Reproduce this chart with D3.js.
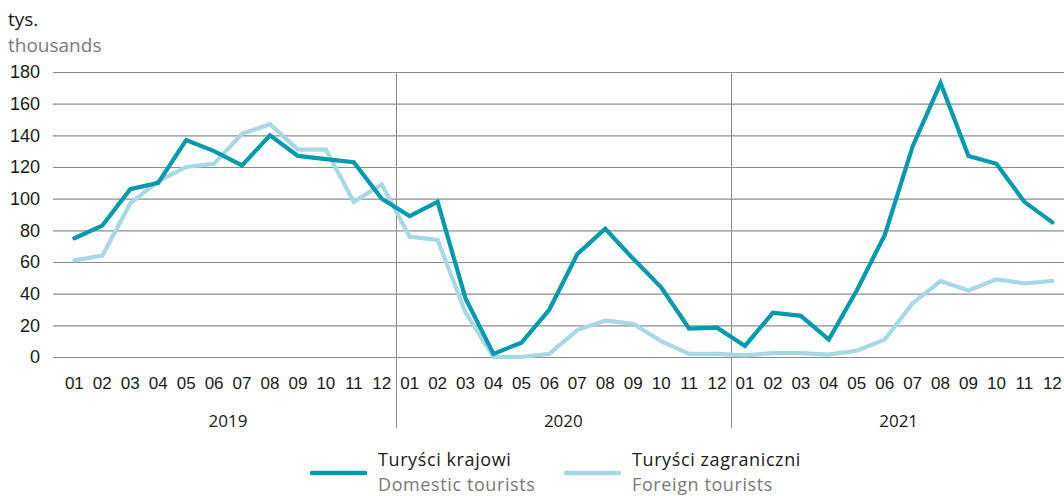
<!DOCTYPE html>
<html>
<head>
<meta charset="utf-8">
<script src="https://cdn.jsdelivr.net/npm/d3@7"></script>
<style>
  html, body { margin: 0; padding: 0; background: #fff; }
  svg { display: block; font-family: "Open Sans", "Noto Sans", sans-serif; }
</style>
</head>
<body>
<svg id="chart" width="1064" height="496"></svg>
<script>
// Monthly tourist arrivals, thousands
const years = ["2019", "2020", "2021"];
const months = ["01", "02", "03", "04", "05", "06", "07", "08", "09", "10", "11", "12"];
const domestic = [
  75, 83, 106, 110, 137, 130, 121, 140, 127, 125, 123, 100,
  89, 98, 37, 2, 9, 30, 65, 81, 62, 44, 18, 18.5,
  7, 28, 26, 11, 42, 77, 133, 173, 127, 122, 98, 85
];
const foreign = [
  61, 64, 97, 111, 120, 122, 141, 147, 131, 131, 98, 109,
  76, 74, 28, 0, 0, 2, 17, 23, 21, 10, 2, 2,
  1, 2.5, 2.5, 1.5, 4, 11, 34, 48, 42, 49, 46.5, 48
];
const yTicks = [0, 20, 40, 60, 80, 100, 120, 140, 160, 180];
const seriesNames = [
  { pl: "Turyści krajowi", en: "Domestic tourists", values: domestic, color: "#009aae" },
  { pl: "Turyści zagraniczni", en: "Foreign tourists", values: foreign, color: "#a6d9e3" }
];

const svg = d3.select("#chart");
const keys = [];
years.forEach(y => months.forEach(m => keys.push(y + "-" + m)));

const x = d3.scaleBand().domain(keys).range([60.4, 1066.3]).padding(0);
const y = d3.scaleLinear().domain([0, 180]).range([357, 72]);

// Horizontal gridlines with tick labels
const yAxis = svg.append("g")
  .attr("transform", "translate(53,0)")
  .call(d3.axisLeft(y).tickValues(yTicks).tickSize(-1011).tickPadding(13).tickFormat(d3.format("d")));
yAxis.select(".domain").remove();
yAxis.selectAll(".tick line").attr("stroke", "#8c8c8c").attr("stroke-width", 1.2);
yAxis.selectAll(".tick text").attr("fill", "#1a1a1a").attr("font-size", 18);

// Year separators
const sepX = [x(years[1] + "-01"), x(years[2] + "-01")];
svg.selectAll("line.sep").data(sepX).enter().append("line")
  .attr("class", "sep")
  .attr("x1", d => Math.round(d) + 0.5).attr("x2", d => Math.round(d) + 0.5)
  .attr("y1", 72).attr("y2", 428)
  .attr("stroke", "#8c8c8c").attr("stroke-width", 1);

// Month labels
const xAxis = svg.append("g")
  .attr("transform", "translate(0,357)")
  .call(d3.axisBottom(x).tickSize(0).tickPadding(20).tickFormat(d => d.slice(5)));
xAxis.select(".domain").remove();
xAxis.selectAll(".tick text").attr("fill", "#1a1a1a").attr("font-size", 17);

// Year labels
svg.selectAll("text.year").data(years).enter().append("text")
  .attr("class", "year")
  .attr("x", d => (x(d + "-01") + x(d + "-12") + x.bandwidth()) / 2)
  .attr("y", 427)
  .attr("text-anchor", "middle")
  .attr("font-size", 17)
  .attr("fill", "#1a1a1a")
  .text(d => d);

// Unit labels
svg.append("text").attr("x", 8).attr("y", 26).attr("font-size", 19).attr("fill", "#1a1a1a").text("tys.");
svg.append("text").attr("x", 8).attr("y", 52).attr("font-size", 19).attr("fill", "#7a7a7a").text("thousands");

// Series lines
const line = d3.line()
  .x((d, i) => x(keys[i]) + x.bandwidth() / 2)
  .y(d => y(d));

[seriesNames[1], seriesNames[0]].forEach(s => {
  svg.append("path")
    .datum(s.values)
    .attr("fill", "none")
    .attr("stroke", s.color)
    .attr("stroke-width", 4.2)
    .attr("stroke-linejoin", "miter")
    .attr("stroke-linecap", "round")
    .attr("d", line);
});

// Legend
const legendX = [312, 566];
seriesNames.forEach((s, i) => {
  const g = svg.append("g").attr("transform", `translate(${legendX[i]},0)`);
  g.append("line").attr("x1", 0).attr("x2", 53).attr("y1", 473).attr("y2", 473)
    .attr("stroke", s.color).attr("stroke-width", 4.5).attr("stroke-linecap", "round");
  g.append("text").attr("x", 66).attr("y", 466).attr("font-size", 18)
    .attr("letter-spacing", 0.6).attr("fill", "#1a1a1a").text(s.pl);
  g.append("text").attr("x", 66).attr("y", 490.5).attr("font-size", 18)
    .attr("letter-spacing", 0.6).attr("fill", "#7a7a7a").text(s.en);
});
</script>
</body>
</html>
